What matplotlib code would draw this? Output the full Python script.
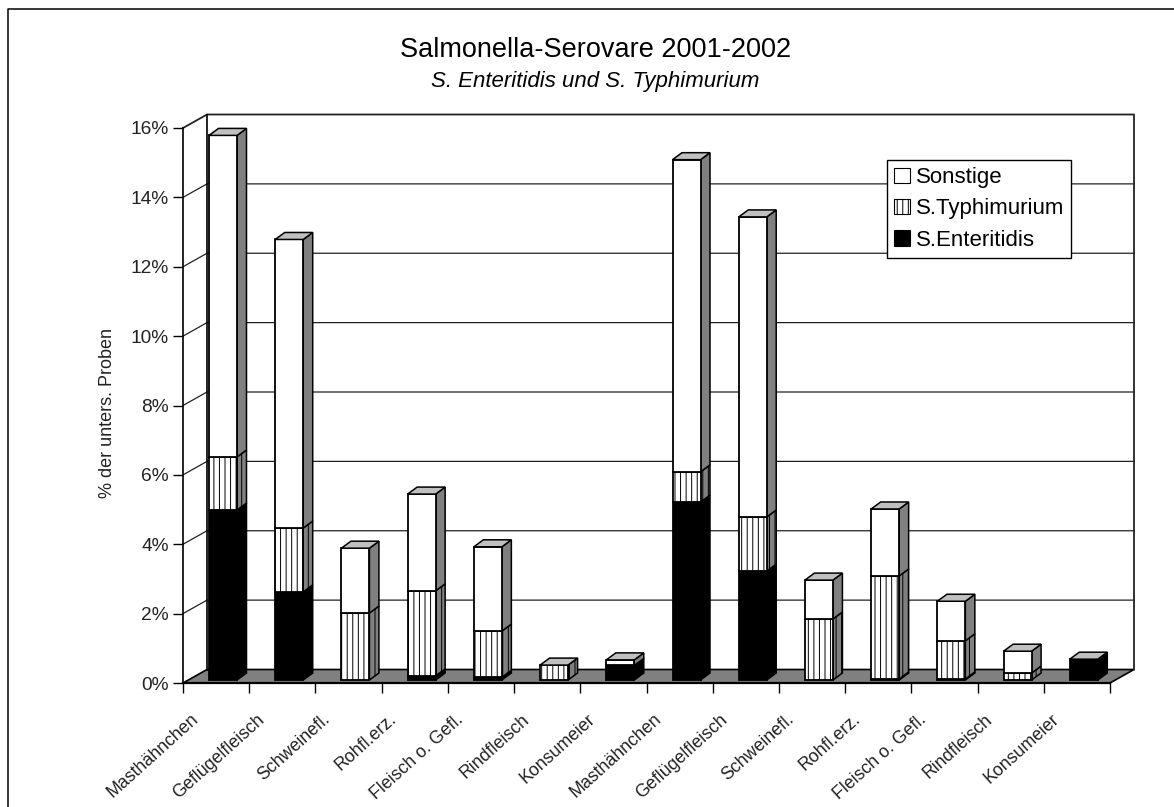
import matplotlib
matplotlib.use('Agg')
import matplotlib.pyplot as plt
from matplotlib.lines import Line2D
from matplotlib.patches import Patch, Polygon, Rectangle
from matplotlib.transforms import ScaledTranslation

plt.rcParams['font.family'] = ['Liberation Sans', 'DejaVu Sans']
plt.rcParams['hatch.linewidth'] = 0.7

categories = ['Masthähnchen', 'Geflügelfleisch', 'Schweinefl.', 'Rohfl.erz.',
              'Fleisch o. Gefl.', 'Rindfleisch', 'Konsumeier',
              'Masthähnchen', 'Geflügelfleisch', 'Schweinefl.', 'Rohfl.erz.',
              'Fleisch o. Gefl.', 'Rindfleisch', 'Konsumeier']
enteritidis = [4.9, 2.54, 0, 0.12, 0.08, 0, 0.42, 5.13, 3.14, 0, 0.03, 0.03, 0, 0.6]
typhimurium = [1.53, 1.84, 1.93, 2.45, 1.33, 0.43, 0, 0.87, 1.56, 1.76, 2.97, 1.1, 0.2, 0]
sonstige = [9.27, 8.32, 1.87, 2.79, 2.43, 0, 0.16, 9.0, 8.65, 1.12, 1.93, 1.14, 0.63, 0]
y_ticks = [0, 2, 4, 6, 8, 10, 12, 14, 16]

W, H = 1174, 807
fig = plt.figure(figsize=(W / 100, H / 100), dpi=100)
# outer chart frame, right and bottom edge are cut off in the picture
fig.add_artist(Line2D([7.5 / W, 7.5 / W, 1], [0, 1 - 8.5 / H, 1 - 8.5 / H], color='black',
                      lw=1.1, transform=fig.transFigure))

# front plane of the fake 3d box
left, right, top, bottom = 183, 1110, 128, 683
ax = fig.add_axes([left / W, 1 - bottom / H, (right - left) / W, (bottom - top) / H])
ax.set_xlim(0, len(categories))
ax.set_ylim(0, 16)
ax.patch.set_alpha(0)
px = len(categories) / (right - left)
py = 16 / (bottom - top)

wall_dx, wall_dy = 24 * px, 13.5 * py
n = len(categories)

# floor, walls, gridlines
ax.add_patch(Polygon([(0, 0), (wall_dx, wall_dy), (n + wall_dx, wall_dy), (n, 0)],
                     fc='#808080', ec='black', lw=1.2, clip_on=False, zorder=1))
for v in y_ticks[1:-1]:
    ax.plot([0, wall_dx, n + wall_dx], [v, v + wall_dy, v + wall_dy], color='#222222',
            lw=0.9, clip_on=False, zorder=1)
ax.plot([0, wall_dx, n + wall_dx, n + wall_dx], [16, 16 + wall_dy, 16 + wall_dy, wall_dy],
        color='#222222', lw=1.3, clip_on=False, zorder=1)
ax.plot([wall_dx, wall_dx], [wall_dy, 16 + wall_dy], color='black', lw=1.2,
        clip_on=False, zorder=1)

# bars
bar_w = 28 * px
bar_x = 26 * px
bar_y = 3 * py
side_dx, side_dy = 9.5 * px, 7 * py


def draw_segment(x, y0, h, hatch=None, black=False):
    face = 'black' if black else 'white'
    side = 'black' if black else '#808080'
    ax.add_patch(Polygon([(x + bar_w, y0), (x + bar_w + side_dx, y0 + side_dy),
                          (x + bar_w + side_dx, y0 + h + side_dy), (x + bar_w, y0 + h)],
                         fc=side, ec='black', lw=1.1, hatch=hatch, clip_on=False, zorder=3))
    ax.add_patch(Rectangle((x, y0), bar_w, h, fc=face, ec='black', lw=1.3, hatch=hatch,
                           clip_on=False, zorder=3))


for i in range(n):
    x = i + bar_x
    y0 = bar_y
    if enteritidis[i] > 0:
        draw_segment(x, y0, enteritidis[i], black=True)
        y0 += enteritidis[i]
    if typhimurium[i] > 0:
        draw_segment(x, y0, typhimurium[i], hatch='|||')
        y0 += typhimurium[i]
    if sonstige[i] > 0:
        draw_segment(x, y0, sonstige[i])
        y0 += sonstige[i]
    ax.add_patch(Polygon([(x, y0), (x + side_dx, y0 + side_dy),
                          (x + bar_w + side_dx, y0 + side_dy), (x + bar_w, y0)],
                         fc='#c0c0c0', ec='black', lw=1.1, clip_on=False, zorder=3))

# axes
for s in ['top', 'right']:
    ax.spines[s].set_visible(False)
ax.spines['left'].set_linewidth(1.2)
ax.spines['bottom'].set_linewidth(1.6)
ax.set_yticks(y_ticks)
ax.set_yticklabels(['%d%%' % v for v in y_ticks], fontsize=13.8, color='#222222')
ax.tick_params(axis='y', length=7, width=1, pad=3)
ax.set_xticks(range(n + 1))
ax.set_xticklabels([])
ax.tick_params(axis='x', length=7, width=1)
ax.set_xticks([i + 0.5 for i in range(n)], minor=True)
ax.set_xticklabels(categories, minor=True, rotation=42, ha='right', va='top',
                   rotation_mode='anchor', fontsize=12.8, color='#222222')
ax.tick_params(axis='x', which='minor', length=0, pad=20)
shift = ScaledTranslation(-26 / 100, 0, fig.dpi_scale_trans)
for lab in ax.get_xticklabels(minor=True):
    lab.set_transform(lab.get_transform() + shift)

fig.text(107 / W, 1 - 413 / H, '% der unters. Proben', rotation=90, ha='center',
         va='center', fontsize=13, color='#222222')
fig.text(596 / W, 1 - 50 / H, 'Salmonella-Serovare 2001-2002', ha='center', va='center',
         fontsize=19.5)
fig.text(595 / W, 1 - 81 / H, 'S. Enteritidis und S. Typhimurium', ha='center', va='center',
         fontsize=16, style='italic')

handles = [Patch(fc='white', ec='black', lw=0.8),
           Patch(fc='white', ec='black', lw=0.8, hatch='|||'),
           Patch(fc='black', ec='black', lw=0.8)]
leg = fig.legend(handles, ['Sonstige', 'S.Typhimurium', 'S.Enteritidis'],
                 loc='upper left', bbox_to_anchor=(887 / W, 1 - 160 / H), fontsize=16,
                 fancybox=False, framealpha=1, edgecolor='black', handlelength=0.7,
                 handleheight=0.7, handletextpad=0.28, labelspacing=0.46, borderpad=0.32,
                 borderaxespad=0)
leg.get_frame().set_linewidth(1)
leg.set_zorder(10)

fig.savefig('out.png', dpi=100)
